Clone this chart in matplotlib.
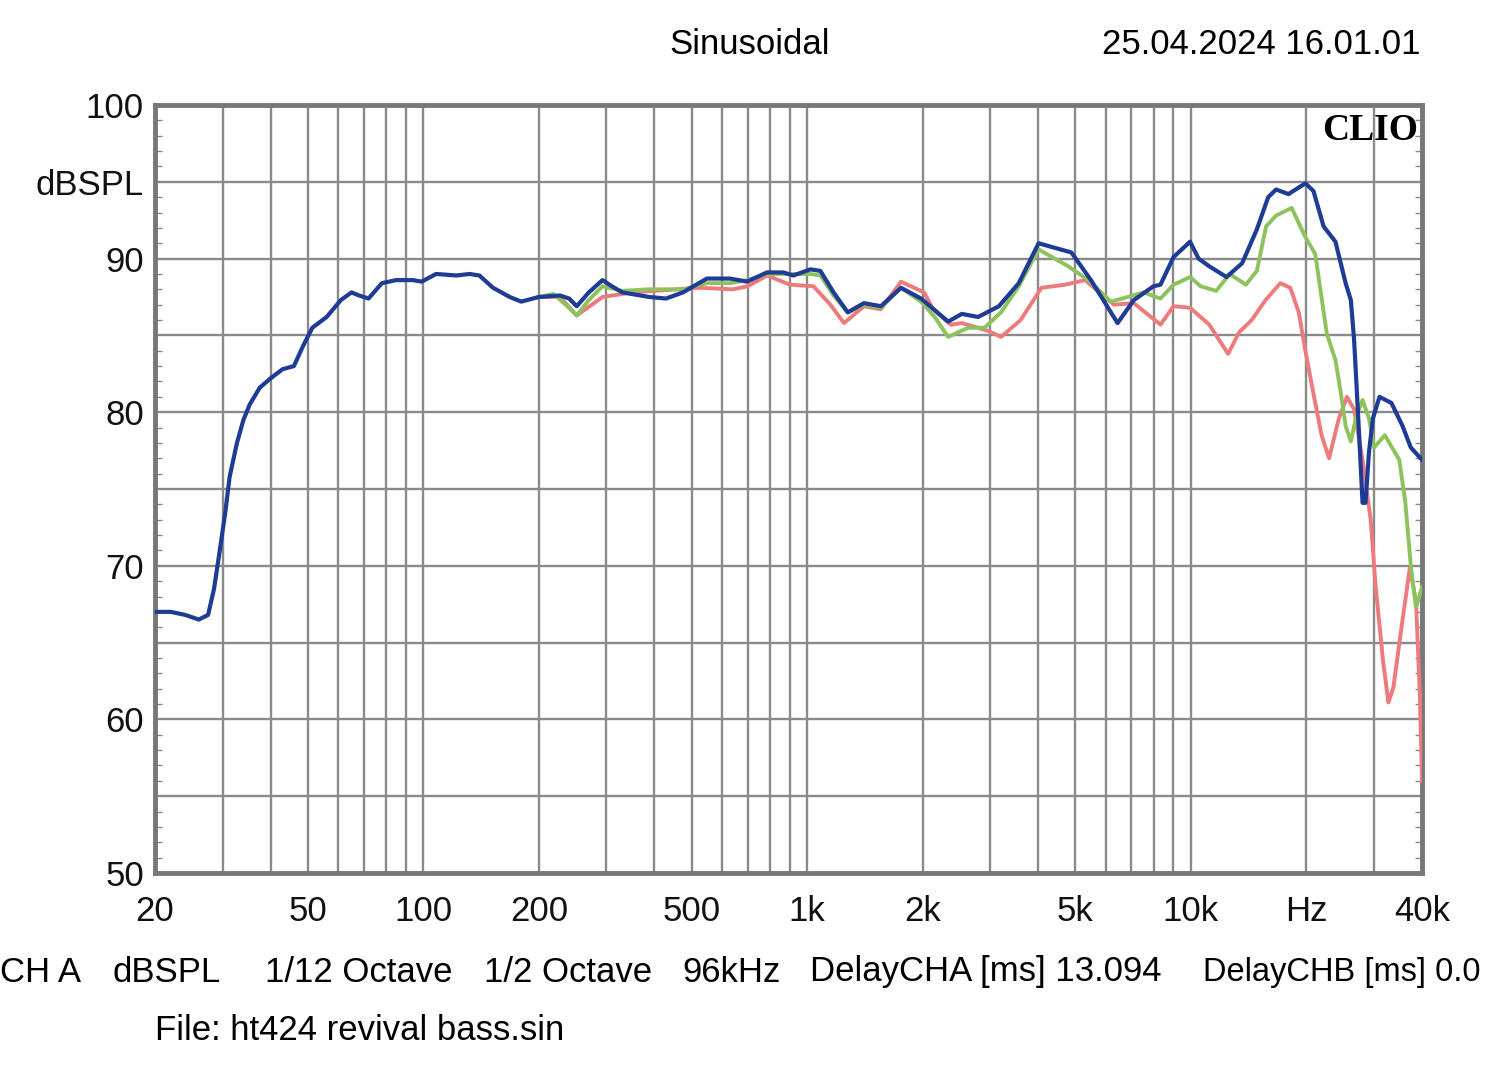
import numpy as np
import matplotlib
matplotlib.use("Agg")
import matplotlib.pyplot as plt

plt.rcParams['font.family'] = ['Liberation Sans', 'DejaVu Sans']

# Curve data (Hz, dBSPL)
blue_f = [20, 22, 24, 26, 27.5, 28.5, 29.5, 30.5, 31.3, 32.7, 34, 35.3, 37.5, 40, 43, 46,
          48.6, 51.4, 56, 61, 65, 68, 72, 78, 85, 94, 99, 108, 122, 132, 140, 152, 168,
          180, 200, 227, 240, 251, 270, 293, 310, 330, 388, 429, 475, 548, 630, 697, 786,
          867, 921, 1020, 1083, 1172, 1276, 1406, 1557, 1756, 1981, 2330, 2530, 2790,
          3160, 3560, 4010, 4420, 4880, 5490, 6440, 7100, 7990, 8330, 9010, 9950, 10470,
          11160, 12380, 13600, 14850, 15900, 16670, 17950, 19870, 20860, 22160, 23800,
          25300, 26100, 26600, 26900, 27500, 28000, 28500, 29100, 29800, 31000, 33300,
          35600, 37400, 40000]
blue_db = [67.0, 67.0, 66.8, 66.5, 66.8, 68.5, 71.0, 73.5, 75.8, 78.0, 79.5, 80.5, 81.6,
           82.2, 82.8, 83.0, 84.3, 85.5, 86.2, 87.3, 87.8, 87.6, 87.4, 88.4, 88.6, 88.6,
           88.5, 89.0, 88.9, 89.0, 88.9, 88.1, 87.5, 87.2, 87.5, 87.6, 87.4, 86.9, 87.8,
           88.6, 88.2, 87.8, 87.5, 87.4, 87.8, 88.7, 88.7, 88.5, 89.1, 89.1, 88.9, 89.3,
           89.2, 87.8, 86.5, 87.1, 86.9, 88.1, 87.4, 85.9, 86.4, 86.2, 86.9, 88.4, 91.0,
           90.7, 90.4, 88.6, 85.8, 87.3, 88.2, 88.3, 90.1, 91.1, 90.0, 89.5, 88.8, 89.7,
           91.9, 94.0, 94.5, 94.2, 94.9, 94.4, 92.1, 91.1, 88.4, 87.3, 84.8, 82.6, 78.0,
           74.1, 74.1, 77.4, 79.6, 81.0, 80.6, 79.1, 77.7, 76.9]

green_f = [200, 218, 235, 251, 270, 293, 330, 388, 475, 548, 630, 700, 786, 900, 1020, 1083,
           1172, 1276, 1406, 1557, 1756, 1981, 2150, 2330, 2630, 2900, 3200, 3560, 4010,
           4790, 5400, 6190, 6840, 7520, 8330, 9010, 9950, 10600, 11640, 12620, 13900,
           14850, 15700, 16670, 18300, 19870, 21080, 22600, 23800, 24600, 25300, 26100,
           26900, 28000, 29100, 30000, 32000, 34900, 36200, 37400, 38600, 40000]
green_db = [87.5, 87.7, 87.0, 86.3, 87.3, 88.2, 87.9, 88.0, 88.0, 88.4, 88.4, 88.6, 89.0,
            89.0, 89.0, 88.9, 87.6, 86.5, 87.0, 86.8, 88.1, 87.2, 86.2, 84.9, 85.5, 85.5,
            86.5, 88.2, 90.6, 89.5, 88.6, 87.2, 87.5, 87.8, 87.4, 88.3, 88.8, 88.2, 87.9,
            89.0, 88.3, 89.2, 92.1, 92.8, 93.3, 91.4, 90.3, 85.1, 83.4, 81.2, 79.1, 78.1,
            79.6, 80.8, 79.6, 77.7, 78.5, 76.9, 74.1, 70.0, 67.3, 68.6]

red_f = [200, 227, 251, 275, 293, 351, 525, 641, 700, 786, 903, 1039, 1150, 1248, 1406,
         1557, 1756, 2017, 2130, 2370, 2530, 2960, 3200, 3600, 4080, 4700, 5300, 6300,
         7100, 8330, 9010, 9950, 11160, 12500, 13350, 14400, 15650, 17100, 18150, 19100,
         19870, 20860, 21900, 22900, 24300, 25500, 26600, 28000, 29400, 30300, 31700,
         32700, 33700, 35600, 37200, 38600, 39500, 40000]
red_db = [87.5, 87.5, 86.3, 87.0, 87.5, 87.8, 88.1, 88.0, 88.2, 88.9, 88.3, 88.2, 87.0,
          85.8, 86.9, 86.7, 88.5, 87.8, 86.7, 85.7, 85.8, 85.3, 84.9, 86.0, 88.1, 88.3,
          88.6, 87.0, 87.1, 85.7, 86.9, 86.8, 85.7, 83.8, 85.2, 86.0, 87.3, 88.4, 88.1,
          86.5, 84.0, 81.2, 78.5, 77.0, 79.6, 81.0, 80.2, 76.9, 73.0, 68.6, 63.7, 61.1,
          62.1, 66.5, 69.9, 67.6, 61.5, 56.0]

# grid and labels
x_grid = [20, 30, 40, 50, 60, 70, 80, 90, 100, 200, 300, 400, 500, 600, 700, 800, 900,
          1000, 2000, 3000, 4000, 5000, 6000, 7000, 8000, 9000, 10000, 20000, 30000, 40000]
x_labels = {20: '20', 50: '50', 100: '100', 200: '200', 500: '500', 1000: '1k',
            2000: '2k', 5000: '5k', 10000: '10k', 20000: 'Hz', 40000: '40k'}
y_grid = [50, 55, 60, 65, 70, 75, 80, 85, 90, 95, 100]
y_labels = {50: '50', 60: '60', 70: '70', 80: '80', 90: '90', 95: 'dBSPL', 100: '100'}

# footer line pieces and their left edges (figure px)
footer = ['CH A', 'dBSPL', '1/12 Octave', '1/2 Octave', '96kHz',
          'DelayCHA [ms] 13.094', 'DelayCHB [ms] 0.0']
footer_x = [0, 113, 265, 484, 682, 810, 1203]

W, H = 1500, 1074
FS = 25

fig = plt.figure(figsize=(15, 10.74), dpi=100)
ax = fig.add_axes([155 / W, 1 - 873 / H, 1267 / W, 768 / H])

ax.semilogx(red_f, red_db, color='#ee7b7b', lw=2.8, zorder=3)
ax.semilogx(green_f, green_db, color='#8cc35c', lw=2.8, zorder=4)
ax.semilogx(blue_f, blue_db, color='#1e3c96', lw=3.0, zorder=5)

ax.set_xlim(20, 40000)
ax.set_ylim(50, 100)

ax.xaxis.set_minor_locator(matplotlib.ticker.NullLocator())
ax.set_xticks(x_grid)
ax.set_xticklabels([x_labels.get(f, '') for f in x_grid])
ax.set_yticks(y_grid)
ax.set_yticklabels([y_labels.get(v, '') for v in y_grid])
ax.set_yticks(np.arange(50, 101, 1), minor=True)

ax.tick_params(axis='both', which='major', length=0, labelsize=FS, colors='#111111')
ax.tick_params(axis='x', pad=16)
ax.tick_params(axis='y', pad=8)
ax.tick_params(axis='y', which='minor', direction='in', length=5, width=1,
               color='#888888', left=True, right=True)
ax.grid(True, which='major', color='#8a8a8a', lw=1.7)
for s in ax.spines.values():
    s.set_color('#787878')
    s.set_linewidth(3.5)

ax.text(0.997, 0.99, 'CLIO', transform=ax.transAxes, ha='right', va='top',
        fontsize=27, fontweight='bold', family=['Liberation Serif', 'DejaVu Serif'], zorder=6)

fig.text(750 / W, 1 - 45 / H, 'Sinusoidal', ha='center', va='center', fontsize=FS)
fig.text(1420 / W, 1 - 45 / H, '25.04.2024 16.01.01', ha='right', va='center', fontsize=FS)
for txt, x in zip(footer, footer_x):
    fig.text(x / W, 1 - 972 / H, txt, ha='left', va='center',
             fontsize=FS if x < 1200 else FS - 1.5)
fig.text(155 / W, 1 - 1030 / H, 'File: ht424 revival bass.sin', ha='left', va='center', fontsize=FS)

fig.savefig('out.png', dpi=100, facecolor='white')
